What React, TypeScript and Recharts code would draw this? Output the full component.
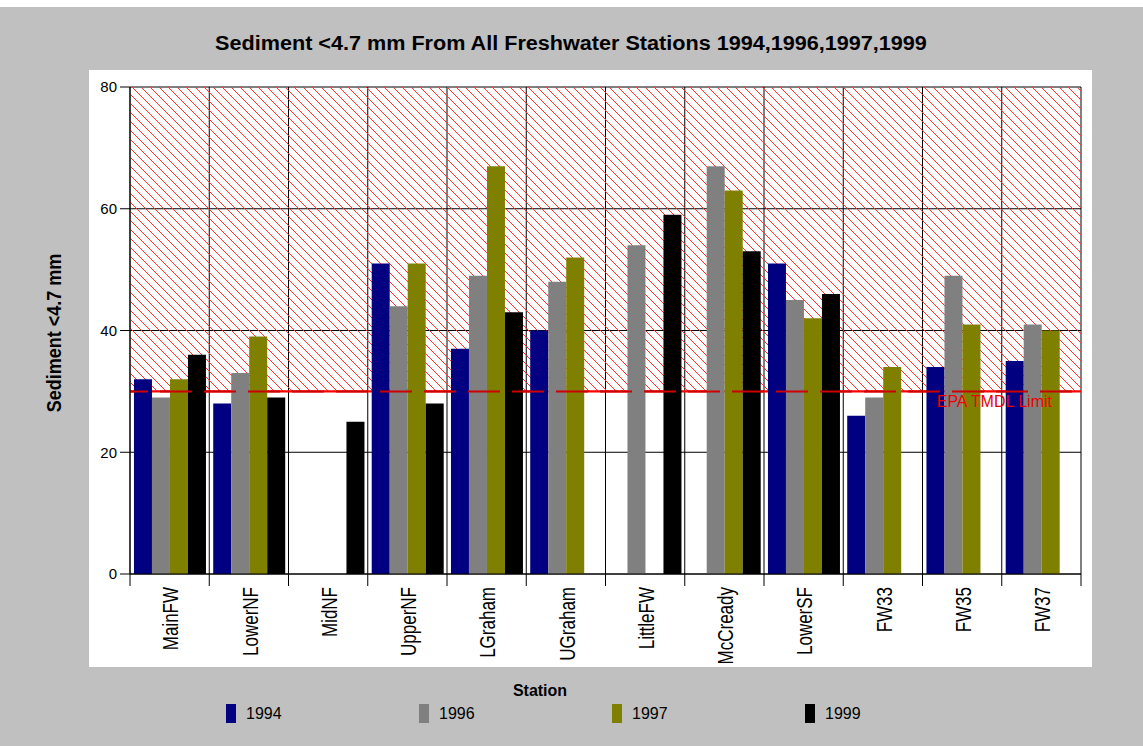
import React from "react";
import {
  BarChart,
  Bar,
  XAxis,
  YAxis,
  CartesianGrid,
  ReferenceArea,
  ReferenceLine,
} from "recharts";

const stations = [
  "MainFW",
  "LowerNF",
  "MidNF",
  "UpperNF",
  "LGraham",
  "UGraham",
  "LittleFW",
  "McCready",
  "LowerSF",
  "FW33",
  "FW35",
  "FW37",
];
const values1994 = [32, 28, null, 51, 37, 40, null, null, 51, 26, 34, 35];
const values1996 = [29, 33, null, 44, 49, 48, 54, 67, 45, 29, 49, 41];
const values1997 = [32, 39, null, 51, 67, 52, null, 63, 42, 34, 41, 40];
const values1999 = [36, 29, 25, 28, 43, null, 59, 53, 46, null, null, null];
const yTicks = [0, 20, 40, 60, 80];
const tmdlLimit = 30;
const yMax = 80;

const series = [
  { key: "y1994", name: "1994", color: "#000080" },
  { key: "y1996", name: "1996", color: "#808080" },
  { key: "y1997", name: "1997", color: "#808000" },
  { key: "y1999", name: "1999", color: "#000000" },
];

const data = stations.map((station, i) => ({
  station,
  y1994: values1994[i],
  y1996: values1996[i],
  y1997: values1997[i],
  y1999: values1999[i],
}));

const FONT = 'Arial, "Liberation Sans", sans-serif';

// station labels: rotated, with the long tick marks on the category borders
function StationTick(props: any) {
  const { x, y, payload, index } = props;
  const half = payload.offset ?? 39.6;
  return (
    <g>
      <line x1={x - half} y1={y} x2={x - half} y2={y + 12} stroke="#000" />
      {index === stations.length - 1 && (
        <line x1={x + half} y1={y} x2={x + half} y2={y + 12} stroke="#000" />
      )}
      <text
        transform={`translate(${x + 1},${y + 13}) scale(1.25,1) rotate(-90)`}
        textAnchor="end"
        dy="0.36em"
        fontSize={17}
        fontFamily={FONT}
        fill="#000"
      >
        {payload.value}
      </text>
    </g>
  );
}

function LimitLabel(props: any) {
  const { viewBox } = props;
  return (
    <text
      x={viewBox.x + viewBox.width - 29}
      y={viewBox.y + 16}
      textAnchor="end"
      fontSize={16}
      fontFamily={FONT}
      fill="#ee0000"
    >
      EPA TMDL Limit
    </text>
  );
}

export default function App() {
  return (
    <div
      style={{
        position: "fixed",
        left: 0,
        top: 0,
        width: 1143,
        height: 746,
        background: "#fff",
        fontFamily: FONT,
        overflow: "hidden",
      }}
    >
      <svg width={0} height={0} style={{ position: "absolute" }}>
        <defs>
          <pattern id="hatch" patternUnits="userSpaceOnUse" width={9} height={9}>
            <path
              d="M0,0 L9,9 M-2,7 L2,11 M7,-2 L11,2"
              stroke="#ff3030"
              strokeWidth={1}
              shapeRendering="crispEdges"
            />
          </pattern>
        </defs>
      </svg>
      <div
        style={{
          position: "absolute",
          left: 0,
          top: 7,
          width: 1143,
          height: 739,
          background: "#c0c0c0",
        }}
      />
      <div
        style={{
          position: "absolute",
          left: 89,
          top: 70,
          width: 1003,
          height: 597,
          background: "#fff",
        }}
      />
      <div
        style={{
          position: "absolute",
          left: 571,
          top: 43,
          transform: "translate(-50%, -50%) scaleX(1.08)",
          whiteSpace: "nowrap",
          fontWeight: "bold",
          fontSize: 20,
        }}
      >
        Sediment &lt;4.7 mm From All Freshwater Stations 1994,1996,1997,1999
      </div>
      <div
        style={{
          position: "absolute",
          left: 55,
          top: 333,
          transform: "translate(-50%, -50%) scaleX(1.15) rotate(-90deg)",
          whiteSpace: "nowrap",
          fontWeight: "bold",
          fontSize: 18,
        }}
      >
        Sediment &lt;4.7 mm
      </div>
      <div
        style={{
          position: "absolute",
          left: 540,
          top: 691,
          transform: "translate(-50%, -50%)",
          whiteSpace: "nowrap",
          fontWeight: "bold",
          fontSize: 16,
        }}
      >
        Station
      </div>
      {series.map((s, i) => (
        <div
          key={s.key}
          style={{
            position: "absolute",
            left: 226 + i * 193,
            top: 704,
            height: 19,
            display: "flex",
            alignItems: "center",
          }}
        >
          <span
            style={{ width: 10, height: 19, background: s.color, marginRight: 10 }}
          />
          <span style={{ fontSize: 16, color: "#000" }}>{s.name}</span>
        </div>
      ))}
      <div style={{ position: "absolute", left: 0, top: 0 }}>
        <BarChart
          width={1143}
          height={746}
          data={data}
          margin={{ top: 87, right: 62, bottom: 92, left: 80 }}
          barCategoryGap="5%"
          barGap={0}
        >
          <CartesianGrid
            stroke="#000"
            verticalCoordinatesGenerator={({ offset }: any) =>
              stations
                .concat([""])
                .map((_, i) => offset.left + (i * offset.width) / stations.length)
            }
          />
          <ReferenceArea
            y1={tmdlLimit}
            y2={yMax}
            fill="url(#hatch)"
            fillOpacity={1}
            stroke="none"
          />
          {/* solid limit line under the bars (thin area so it stays behind them) */}
          <ReferenceArea
            y1={tmdlLimit - 0.17}
            y2={tmdlLimit + 0.17}
            fill="#ff0000"
            fillOpacity={1}
            stroke="none"
          />
          <XAxis
            dataKey="station"
            interval={0}
            height={80}
            tickLine={false}
            tickSize={0}
            tickMargin={0}
            axisLine={{ stroke: "#000" }}
            tick={<StationTick />}
          />
          <YAxis
            domain={[0, yMax]}
            ticks={yTicks}
            width={50}
            tickSize={10}
            tickMargin={3}
            axisLine={{ stroke: "#000" }}
            tickLine={{ stroke: "#000" }}
            tick={{ fill: "#000", fontSize: 15, fontFamily: FONT }}
          />
          {series.map((s) => (
            <Bar
              key={s.key}
              dataKey={s.key}
              name={s.name}
              fill={s.color}
              isAnimationActive={false}
            />
          ))}
          <ReferenceLine
            y={tmdlLimit}
            stroke="#cc0000"
            strokeWidth={2}
            strokeDasharray="32 12"
            strokeDashoffset={14}
            label={<LimitLabel />}
          />
        </BarChart>
      </div>
    </div>
  );
}
